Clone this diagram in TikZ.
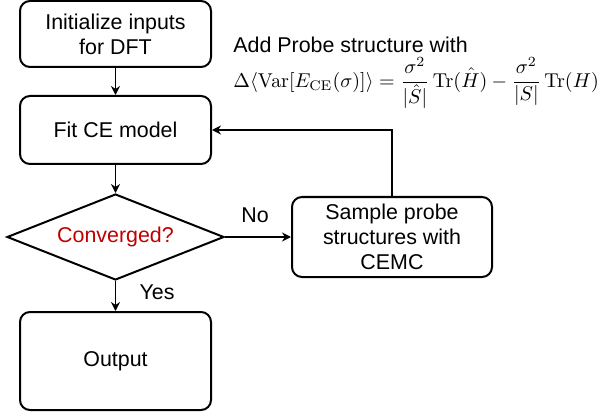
\documentclass[tikz,border=0pt]{standalone}
\usepackage{amsmath}
\usepackage[no-math]{fontspec}
\newfontfamily\arial{Liberation Sans}
\usetikzlibrary{shapes.geometric,arrows.meta}
\definecolor{convred}{RGB}{192,0,0}
\begin{document}
\begin{tikzpicture}[x=0.5pt,y=-0.5pt,
  box/.style={draw,line width=1pt,rounded corners=5pt,font=\arial\fontsize{10.7}{12.6}\selectfont,align=center,inner sep=0pt},
  arr/.style={line width=0.9pt,-{Stealth[length=4.5pt,width=4.5pt]}},
  lbl/.style={font=\arial\fontsize{10.7}{12.6}\selectfont,inner sep=0pt}]
\useasboundingbox (0,0) rectangle (600,417);
\node[box,minimum width=95.5pt,minimum height=33pt] (init) at (115.5,34) {Initialize inputs\\for DFT};
\node[box,minimum width=95.5pt,minimum height=34pt] (fit) at (115.5,130) {Fit CE model};
\node[draw,line width=1pt,diamond,aspect=2.52,inner sep=0pt,minimum width=108.5pt,minimum height=43pt,font=\arial\fontsize{10.7}{12.6}\selectfont,text=convred] (conv) at (115.5,237) {Converged?};
\node[box,minimum width=100pt,minimum height=40pt] (sample) at (392,237) {Sample probe\\structures with\\CEMC};
\node[box,minimum width=95.5pt,minimum height=49pt] (out) at (115.5,361) {Output};
\draw[arr] (init) -- (fit);
\draw[arr] (fit) -- (conv);
\draw[arr] (conv) -- (out);
\draw[arr] (conv) -- (sample);
\draw[arr] (sample.north) |- (fit.east);
\node[lbl] (no) at (255,215) {No};
\node[lbl] (yes) at (157,292) {Yes};
\node[lbl,anchor=west] (add) at (233,45) {Add Probe structure with};
\node[inner sep=0pt,anchor=west] (eq) at (233,83) {$\displaystyle \Delta\langle\mathrm{Var}[E_{\mathrm{CE}}(\sigma)]\rangle=\frac{\sigma^2}{|\hat{S}|}\,\mathrm{Tr}(\hat{H})-\frac{\sigma^2}{|S|}\,\mathrm{Tr}(H)$};
\end{tikzpicture}
\end{document}
